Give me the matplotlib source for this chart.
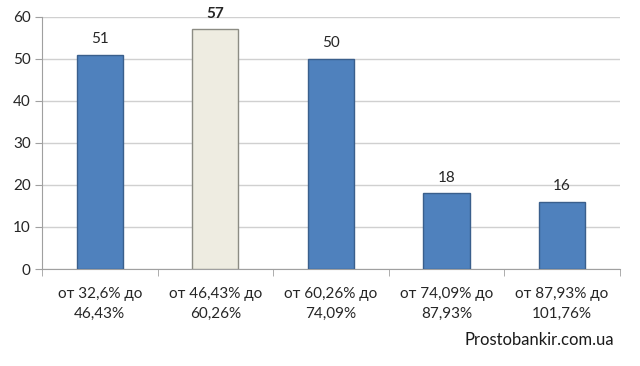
import numpy as np
import matplotlib.pyplot as plt

categories = ['от 32,6% до\n46,43%', 'от 46,43% до\n60,26%', 'от 60,26% до\n74,09%',
              'от 74,09% до\n87,93%', 'от 87,93% до\n101,76%']
values = [51, 57, 50, 18, 16]
highlight = 1

plt.rcParams['font.family'] = ['Lato', 'DejaVu Sans']

fig = plt.figure(figsize=(6.4, 3.66), dpi=100)
ax = fig.add_axes([0.0656, 0.265, 0.903, 0.689])

x = np.arange(len(values))
colors = ['#EEECE1' if i == highlight else '#4F81BD' for i in range(len(values))]
edges = ['#8C8C84' if i == highlight else '#3A5F8C' for i in range(len(values))]
ax.bar(x, values, width=0.4, color=colors, edgecolor=edges, linewidth=1, zorder=3)

for i, v in enumerate(values):
    ax.text(i, v + 2.0, str(v), ha='center', va='bottom', fontsize=11,
            color='#262626', fontweight='bold' if i == highlight else 'normal')

ax.set_xlim(-0.5, len(values) - 0.5)
ax.set_ylim(0, 60)
ax.set_yticks(range(0, 61, 10))
ax.yaxis.grid(True, color='#D0D0D0', linewidth=1, zorder=0)
ax.set_axisbelow(True)

ax.set_xticks(x)
ax.set_xticklabels(categories, fontsize=11, color='#262626', linespacing=1.55)
ax.set_xticks(np.arange(-0.5, len(values)), minor=True)
ax.tick_params(axis='x', which='major', length=0, pad=13)
ax.tick_params(axis='x', which='minor', length=5, color='#A0A0A0')
ax.tick_params(axis='y', length=5, color='#A0A0A0', labelsize=11, labelcolor='#262626', pad=3)

for s in ['top', 'right']:
    ax.spines[s].set_visible(False)
for s in ['left', 'bottom']:
    ax.spines[s].set_color('#A0A0A0')

fig.text(0.959, 0.07, 'Prostobankir.com.ua', ha='right', va='center', fontsize=12, color='#1A1A1A')

fig.savefig('out.png', dpi=100)
